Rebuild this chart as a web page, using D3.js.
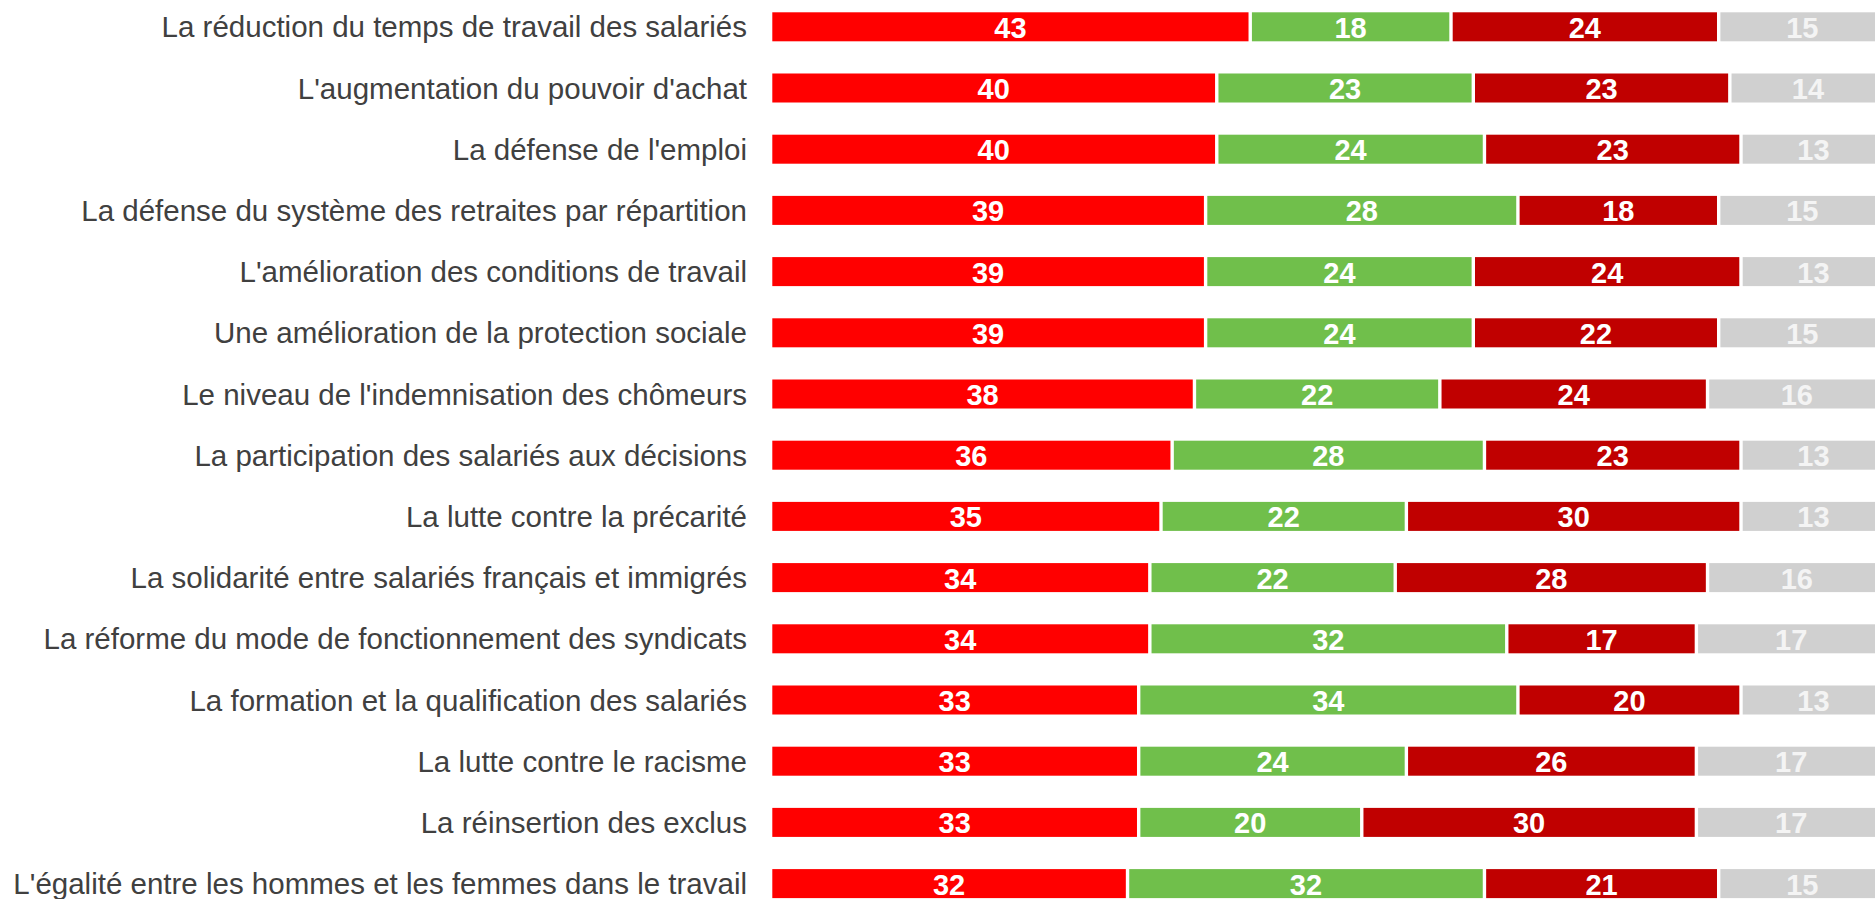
<!DOCTYPE html>
<html>
<head>
<meta charset="utf-8">
<script src="https://cdn.jsdelivr.net/npm/d3@7"></script>
<style>
  body { margin: 0; background: #fff; overflow: hidden; }
  svg { display: block; }
</style>
</head>
<body>
<div id="chart"></div>
<script>
var W = 1875, H = 899;

// categories, top to bottom
var labels = [
    "La réduction du temps de travail des salariés",
    "L'augmentation du pouvoir d'achat",
    "La défense de l'emploi",
    "La défense du système des retraites par répartition",
    "L'amélioration des conditions de travail",
    "Une amélioration de la protection sociale",
    "Le niveau de l'indemnisation des chômeurs",
    "La participation des salariés aux décisions",
    "La lutte contre la précarité",
    "La solidarité entre salariés français et immigrés",
    "La réforme du mode de fonctionnement des syndicats",
    "La formation et la qualification des salariés",
    "La lutte contre le racisme",
    "La réinsertion des exclus",
    "L'égalité entre les hommes et les femmes dans le travail"
];

// the four stacked series, in order left to right
var serie1 = [43, 40, 40, 39, 39, 39, 38, 36, 35, 34, 34, 33, 33, 33, 32];
var serie2 = [18, 23, 24, 28, 24, 24, 22, 28, 22, 22, 32, 34, 24, 20, 32];
var serie3 = [24, 23, 23, 18, 24, 22, 24, 23, 30, 28, 17, 20, 26, 30, 21];
var serie4 = [15, 14, 13, 15, 13, 15, 16, 13, 13, 16, 17, 13, 17, 17, 15];

var colors = ["#ff0000", "#70bf4b", "#c00000", "#d0d0d0"];
var textColors = ["#ffffff", "#ffffff", "#ffffff", "#f4f4f4"];

// build rows for d3.stack
var rows = labels.map(function (l, i) {
    return { label: l, s0: serie1[i], s1: serie2[i], s2: serie3[i], s3: serie4[i] };
});
var keys = ["s0", "s1", "s2", "s3"];
var stacked = d3.stack().keys(keys)(rows);

var svg = d3.select("#chart").append("svg")
    .attr("width", W)
    .attr("height", H);

var xScale = d3.scaleLinear()
    .domain([0, 100])
    .range([770.6, 1886]);

var yScale = d3.scaleBand()
    .domain(labels)
    .range([-3.8, -3.8 + 15 * 61.2])
    .paddingInner(0.526)
    .paddingOuter(0.263);

var gap = 3.4;

//BARS
var layer = svg.selectAll("g.layer")
    .data(stacked)
    .enter().append("g")
    .attr("class", "layer")
    .attr("fill", function (d, i) { return colors[i]; });

layer.selectAll("rect")
    .data(function (d) { return d; })
    .enter().append("rect")
    .attr("x", function (d) { return xScale(d[0]) + gap / 2; })
    .attr("y", function (d) { return yScale(d.data.label); })
    .attr("width", function (d) { return xScale(d[1]) - xScale(d[0]) - gap; })
    .attr("height", yScale.bandwidth());

//VALUES
stacked.forEach(function (s, si) {
    svg.append("g")
        .selectAll("text")
        .data(s)
        .enter().append("text")
        .attr("x", function (d) { return (xScale(d[0]) + xScale(d[1])) / 2; })
        .attr("y", function (d) { return yScale(d.data.label) + yScale.bandwidth() / 2; })
        .attr("dy", "0.38em")
        .attr("text-anchor", "middle")
        .attr("fill", textColors[si])
        .style("font-family", "'Liberation Sans', Arial, sans-serif")
        .style("font-weight", "bold")
        .style("font-size", "29px")
        .text(function (d) { return d[1] - d[0]; });
});

//LABELS
var yAxis = d3.axisLeft(yScale).tickSize(0).tickPadding(0);
var gAxis = svg.append("g")
    .attr("transform", "translate(747,0)")
    .call(yAxis);
gAxis.select(".domain").remove();
gAxis.selectAll("text")
    .attr("fill", "#404040")
    .attr("dy", "0.36em")
    .style("font-family", "'Liberation Sans', Arial, sans-serif")
    .style("font-size", "29.5px");
</script>
</body>
</html>
